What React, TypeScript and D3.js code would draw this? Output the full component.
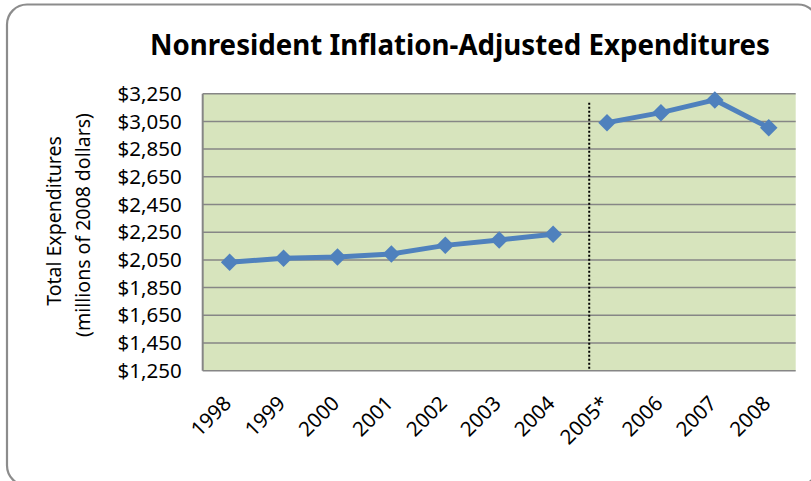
import React, { useRef, useEffect } from "react";
import * as d3 from "d3";

const years = ["1998", "1999", "2000", "2001", "2002", "2003", "2004", "2005*", "2006", "2007", "2008"];
const earlyValues = [2033, 2062, 2071, 2093, 2155, 2194, 2235];
const lateValues = [3041, 3113, 3205, 3005];
const yTicks = [1250, 1450, 1650, 1850, 2050, 2250, 2450, 2650, 2850, 3050, 3250];

const W = 811;
const H = 481;
const FONT = "'Noto Sans', 'Open Sans', sans-serif";

export default function App() {
  const svgRef = useRef<SVGSVGElement>(null);

  useEffect(() => {
    document.body.style.margin = "0";
    if (!svgRef.current) return;
    const svg = d3.select(svgRef.current);
    svg.selectAll("*").remove();

    const margin = { top: 93.7, right: 15.3, bottom: 110.3, left: 202.7 };
    const width = W - margin.left - margin.right;
    const height = H - margin.top - margin.bottom;

    // outer rounded frame
    svg.append("rect")
      .attr("x", 7).attr("y", 4.5)
      .attr("width", 811).attr("height", 481)
      .attr("rx", 20).attr("ry", 20)
      .attr("fill", "white")
      .attr("stroke", "#8c8c8c")
      .attr("stroke-width", 2.2);

    svg.append("text")
      .attr("x", 460).attr("y", 55)
      .attr("text-anchor", "middle")
      .attr("font-family", FONT)
      .attr("font-weight", "bold")
      .attr("font-size", 29)
      .attr("textLength", 620)
      .attr("lengthAdjust", "spacingAndGlyphs")
      .text("Nonresident Inflation-Adjusted Expenditures");

    const g = svg.append("g").attr("transform", `translate(${margin.left},${margin.top})`);

    const x = d3.scaleBand<string>().domain(years).range([0, width]);
    const y = d3.scaleLinear().domain([1250, 3250]).range([height, 0]);

    g.append("rect")
      .attr("width", width).attr("height", height)
      .attr("fill", "#d7e4bd");

    g.selectAll(".grid")
      .data(yTicks)
      .join("line")
      .attr("x1", 0).attr("x2", width)
      .attr("y1", d => y(d)).attr("y2", d => y(d))
      .attr("stroke", "#868686")
      .attr("stroke-width", 1.5);

    g.append("line")
      .attr("x1", 0).attr("x2", 0)
      .attr("y1", 0).attr("y2", height)
      .attr("stroke", "#868686").attr("stroke-width", 2);

    // y labels
    g.selectAll(".ylab")
      .data(yTicks)
      .join("text")
      .attr("x", -21)
      .attr("y", d => y(d))
      .attr("dy", "0.35em")
      .attr("text-anchor", "end")
      .attr("font-family", FONT)
      .attr("font-size", 20.5)
      .text(d => "$" + d3.format(",")(d));

    // x labels
    g.selectAll(".xlab")
      .data(years)
      .join("text")
      .attr("transform", d => `translate(${(x(d) as number) + x.bandwidth() / 2 + 3},${height + 34}) rotate(-45)`)
      .attr("text-anchor", "end")
      .attr("font-family", FONT)
      .attr("font-size", 20.5)
      .text(d => d);

    // axis title
    const title = svg.append("text")
      .attr("transform", "translate(61,225) rotate(-90)")
      .attr("text-anchor", "middle")
      .attr("font-family", FONT)
      .attr("font-size", 19.5);
    title.append("tspan").attr("x", 4).attr("y", 0).text("Total Expenditures");
    title.append("tspan").attr("x", 0).attr("y", 29).text("(millions of 2008 dollars)");

    // dotted separator
    const sepX = (x("2004") as number) + x.bandwidth() * 0.67 + x.bandwidth() / 2;
    g.append("line")
      .attr("x1", sepX).attr("x2", sepX)
      .attr("y1", 9).attr("y2", height)
      .attr("stroke", "black")
      .attr("stroke-width", 2)
      .attr("stroke-dasharray", "2,2");

    const cx = (d: string) => (x(d) as number) + x.bandwidth() / 2;
    const segs = [
      years.slice(0, 7).map((yr, i) => ({ yr, v: earlyValues[i] })),
      years.slice(7).map((yr, i) => ({ yr, v: lateValues[i] })),
    ];
    const line = d3.line<{ yr: string; v: number }>().x(d => cx(d.yr)).y(d => y(d.v));
    const diamond = d3.symbol().type(d3.symbolDiamond2).size(195);

    segs.forEach(seg => {
      g.append("path")
        .datum(seg)
        .attr("d", line)
        .attr("fill", "none")
        .attr("stroke", "#4f81bd")
        .attr("stroke-width", 5);
      g.selectAll(null)
        .data(seg)
        .join("path")
        .attr("transform", d => `translate(${cx(d.yr)},${y(d.v)})`)
        .attr("d", diamond)
        .attr("fill", "#4f81bd");
    });
  }, []);

  return (
    <svg ref={svgRef} width={W} height={H} style={{ display: "block", position: "absolute", left: 0, top: 0 }} />
  );
}
